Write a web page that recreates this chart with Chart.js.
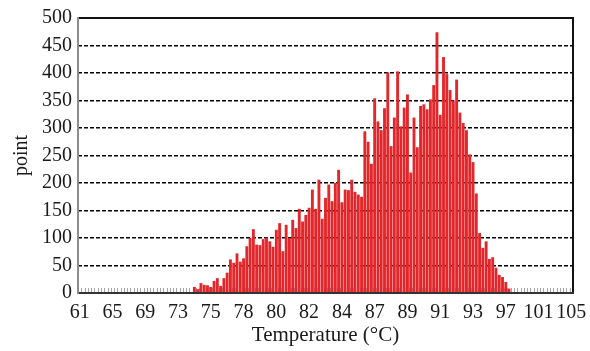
<!DOCTYPE html>
<html>
<head>
<meta charset="utf-8">
<script src="https://cdn.jsdelivr.net/npm/chart.js@4.4.1/dist/chart.umd.min.js"></script>
<style>
  html, body { margin: 0; padding: 0; background: #ffffff; }
  #wrap { width: 590px; height: 351px; }
</style>
</head>
<body>
<div id="wrap"><canvas id="chart" width="590" height="351"></canvas></div>
<script>
// Axis labels shown under every tenth temperature bin
const tickLabels = ['61', '65', '69', '73', '75', '78', '80', '82', '84', '87', '89', '91', '93', '97', '101', '105'];
const binsPerLabel = 10;

// Number of points in each temperature bin (151 bins)
const counts = [
  0, 0, 0, 0, 0, 0, 0, 0, 0, 0,
  0, 0, 0, 0, 0, 0, 0, 0, 0, 0,
  0, 0, 0, 0, 0, 0, 0, 0, 0, 0,
  0, 0, 0, 0, 0,
  11, 7, 18, 15, 14, 11, 22, 27, 13, 27,
  37, 61, 55, 72, 57, 63, 85, 100, 116, 88,
  87, 98, 101, 94, 84, 115, 127, 76, 124, 100,
  133, 118, 153, 130, 142, 155, 188, 153, 206, 135,
  173, 197, 167, 200, 224, 165,
  188, 187, 206, 184, 179, 175, 294, 275, 235, 354,
  312, 296, 336, 401, 267, 319, 403, 303, 337, 361,
  219, 319, 265, 340, 343, 334, 352, 378, 474, 324,
  429, 398, 369, 350, 388, 328, 309, 296, 252, 238,
  181, 109, 82, 94, 62, 65, 46, 33, 29, 20,
  8,
  0, 0, 0, 0, 0, 0, 0, 0, 0, 0,
  0, 0, 0, 0, 0, 0, 0, 0, 0
];

const categories = counts.map((_, i) => (i % binsPerLabel === 0 ? tickLabels[i / binsPerLabel] : ''));

const serif = 'Liberation Serif, Times New Roman, serif';

// Short grey teeth along the bottom axis, one at every bin edge
const binComb = {
  id: 'binComb',
  beforeDatasetsDraw(chart) {
    const { ctx, chartArea } = chart;
    const x = chart.scales.x;
    const n = categories.length;
    const half = (x.getPixelForValue(1) - x.getPixelForValue(0)) / 2;
    ctx.save();
    ctx.strokeStyle = '#a6a6a6';
    ctx.lineWidth = 1;
    ctx.beginPath();
    for (let i = 0; i <= n; i++) {
      const px = Math.round(x.getPixelForValue(Math.min(i, n - 1)) + (i === n ? half : -half)) + 0.5;
      ctx.moveTo(px, chartArea.bottom);
      ctx.lineTo(px, chartArea.bottom - 5);
    }
    ctx.stroke();
    ctx.restore();
  }
};

// Plot frame: grey left axis, dark bottom axis, black top and right edges
const plotFrame = {
  id: 'plotFrame',
  afterDraw(chart) {
    const { ctx, chartArea: a } = chart;
    ctx.save();
    ctx.lineWidth = 2;
    ctx.strokeStyle = '#111111';
    ctx.beginPath();
    ctx.moveTo(a.left, a.top);
    ctx.lineTo(a.right, a.top);
    ctx.lineTo(a.right, a.bottom);
    ctx.stroke();
    ctx.strokeStyle = '#333333';
    ctx.beginPath();
    ctx.moveTo(a.left, a.bottom);
    ctx.lineTo(a.right + 1, a.bottom);
    ctx.stroke();
    ctx.strokeStyle = '#8c8c8c';
    ctx.beginPath();
    ctx.moveTo(a.left, a.top - 1);
    ctx.lineTo(a.left, a.bottom + 1);
    ctx.stroke();
    ctx.restore();
  }
};

new Chart(document.getElementById('chart'), {
  type: 'bar',
  data: {
    labels: categories,
    datasets: [{
      data: counts,
      backgroundColor: '#e2262a',
      borderWidth: 0,
      barPercentage: 0.88,
      categoryPercentage: 1.0
    }]
  },
  options: {
    responsive: false,
    animation: false,
    layout: { padding: { left: 0, right: 17, top: 13, bottom: 0 } },
    plugins: { legend: { display: false }, tooltip: { enabled: false } },
    scales: {
      x: {
        type: 'category',
        offset: true,
        grid: { display: false, drawTicks: false },
        border: { display: false },
        ticks: {
          autoSkip: false,
          maxRotation: 0,
          minRotation: 0,
          padding: 8,
          color: '#1a1a1a',
          font: { family: serif, size: 20 },
          callback: (v, i) => categories[i]
        },
        title: {
          display: true,
          text: 'Temperature (°C)',
          color: '#1a1a1a',
          font: { family: serif, size: 21 },
          padding: { top: 0, bottom: 3 }
        },
        afterFit(scale) {
          scale.height = 58;
          scale.paddingLeft = 0;
          scale.paddingRight = 0;
        }
      },
      y: {
        min: 0,
        max: 500,
        ticks: {
          stepSize: 50,
          padding: 6,
          color: '#1a1a1a',
          font: { family: serif, size: 20 }
        },
        grid: {
          drawTicks: false,
          lineWidth: 1.6,
          color: (c) => (c.tick && (c.tick.value === 0 || c.tick.value === 500) ? 'rgba(0,0,0,0)' : '#000000')
        },
        border: { display: false, dash: [4, 2] },
        title: {
          display: true,
          text: 'point',
          color: '#1a1a1a',
          font: { family: serif, size: 20 },
          padding: { top: 10, bottom: 0 }
        },
        afterFit(scale) { scale.width = 78; }
      }
    }
  },
  plugins: [binComb, plotFrame]
});
</script>
</body>
</html>
